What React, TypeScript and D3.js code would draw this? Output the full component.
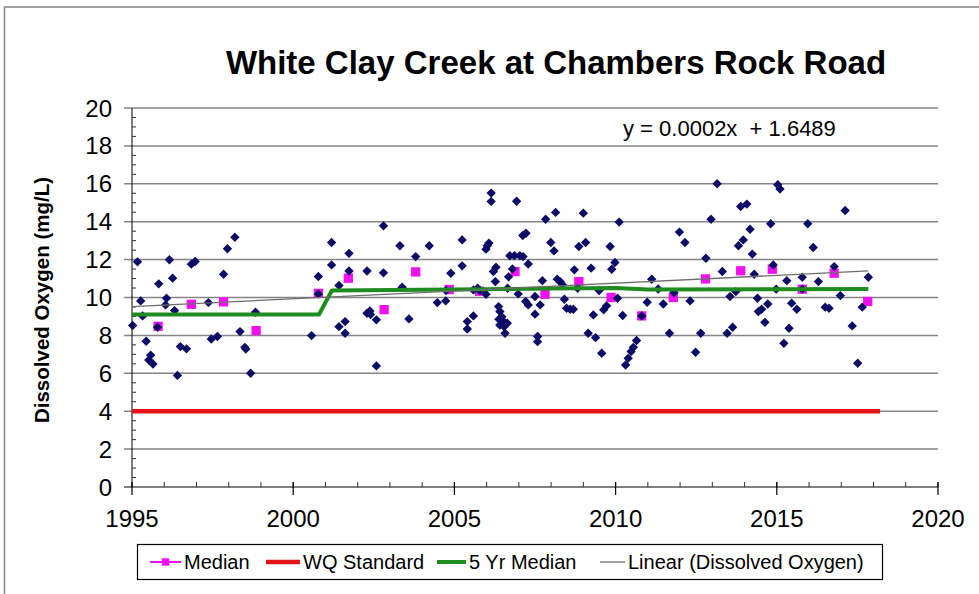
import React from 'react';
import * as d3 from 'd3';

const W = 979;
const H = 594;

const chartTitle = 'White Clay Creek at Chambers Rock Road';
const yAxisTitle = 'Dissolved Oxygen (mg/L)';
const equationText = 'y = 0.0002x  + 1.6489';
const xTicks = [1995, 2000, 2005, 2010, 2015, 2020];
const yTicks = [0, 2, 4, 6, 8, 10, 12, 14, 16, 18, 20];
const legendLabels = ['Median', 'WQ Standard', '5 Yr Median', 'Linear (Dissolved Oxygen)'];

const doYears = [
  1995.02, 1995.17, 1995.27, 1995.33, 1995.44, 1995.52, 1995.58, 1995.65, 1995.79, 1995.83,
  1996.04, 1996.07, 1996.16, 1996.26, 1996.32, 1996.41, 1996.5, 1996.69, 1996.84, 1996.96,
  1997.37, 1997.46, 1997.65, 1997.84, 1997.96, 1998.19, 1998.35, 1998.5, 1998.53, 1998.68,
  1998.83, 2000.57, 2000.78, 2000.78, 2001.19, 2001.19, 2001.42, 2001.42, 2001.61, 2001.61,
  2001.73, 2001.73, 2002.29, 2002.29, 2002.38, 2002.4, 2002.58, 2002.58, 2002.8, 2002.8,
  2003.31, 2003.38, 2003.59, 2003.8, 2004.22, 2004.47, 2004.73, 2004.74, 2004.89, 2005.24,
  2005.24, 2005.4, 2005.4, 2005.59, 2005.59, 2005.72, 2005.79, 2005.98, 2005.98, 2006.02,
  2006.07, 2006.14, 2006.14, 2006.21, 2006.27, 2006.29, 2006.37, 2006.38, 2006.41, 2006.41,
  2006.47, 2006.5, 2006.54, 2006.57, 2006.64, 2006.65, 2006.68, 2006.72, 2006.8, 2006.86,
  2006.93, 2006.98, 2007.03, 2007.12, 2007.13, 2007.21, 2007.22, 2007.29, 2007.29, 2007.5,
  2007.5, 2007.58, 2007.58, 2007.66, 2007.73, 2007.83, 2007.99, 2008.09, 2008.14, 2008.19,
  2008.28, 2008.35, 2008.41, 2008.48, 2008.59, 2008.69, 2008.72, 2008.82, 2008.86, 2009.0,
  2009.07, 2009.15, 2009.24, 2009.31, 2009.38, 2009.49, 2009.57, 2009.63, 2009.72, 2009.83,
  2009.88, 2009.98, 2010.06, 2010.11, 2010.22, 2010.31, 2010.39, 2010.48, 2010.55, 2010.65,
  2010.81, 2010.98, 2011.12, 2011.32, 2011.48, 2011.67, 2011.81, 2011.98, 2012.15, 2012.31,
  2012.48, 2012.64, 2012.8, 2012.96, 2013.15, 2013.31, 2013.46, 2013.55, 2013.63, 2013.73,
  2013.81, 2013.88, 2013.96, 2014.07, 2014.17, 2014.24, 2014.3, 2014.4, 2014.43, 2014.53,
  2014.63, 2014.72, 2014.81, 2014.89, 2014.98, 2015.03, 2015.1, 2015.22, 2015.31, 2015.38,
  2015.46, 2015.62, 2015.79, 2015.79, 2015.96, 2016.13, 2016.29, 2016.5, 2016.62, 2016.78,
  2016.97, 2017.12, 2017.34, 2017.51, 2017.65, 2017.84,
];

const doValues = [
  8.52, 11.88, 9.82, 9.03, 7.69, 6.7, 6.95, 6.49, 8.43, 10.72,
  9.61, 9.96, 11.99, 11.02, 9.31, 5.89, 7.41, 7.29, 11.76, 11.9,
  9.73, 7.81, 7.94, 11.23, 12.57, 13.18, 8.2, 7.37, 7.28, 6.0,
  9.22, 7.99, 11.11, 10.19, 12.9, 11.72, 10.63, 8.46, 8.73, 8.11,
  12.33, 11.4, 11.4, 9.17, 9.29, 9.1, 8.82, 6.39, 13.78, 11.3,
  12.73, 10.54, 8.87, 12.16, 12.73, 9.73, 9.82, 10.37, 11.28, 13.04,
  11.67, 8.73, 8.34, 9.03, 10.4, 10.49, 10.37, 10.17, 12.55, 12.73,
  12.87, 15.51, 15.07, 11.37, 10.84, 11.6, 9.52, 8.85, 9.26, 8.55,
  8.99, 8.78, 8.46, 8.11, 8.64, 10.49, 11.09, 12.2, 11.51, 12.2,
  15.08, 10.19, 12.2, 13.27, 12.16, 9.79, 13.39, 11.77, 9.61, 10.05,
  9.12, 7.94, 7.67, 9.61, 10.89, 14.13, 12.9, 12.46, 14.49, 10.96,
  10.84, 10.67, 9.91, 9.43, 9.38, 9.38, 11.46, 10.49, 12.69, 14.45,
  12.9, 8.11, 11.55, 9.08, 7.88, 10.37, 7.06, 9.35, 9.56, 12.69,
  11.49, 11.85, 9.96, 13.98, 9.05, 6.44, 6.79, 7.15, 7.37, 7.73,
  9.03, 9.75, 10.96, 10.45, 9.66, 8.11, 10.26, 13.45, 12.9, 9.82,
  7.11, 8.11, 12.07, 14.13, 16.0, 11.37, 8.11, 10.05, 8.43, 10.31,
  12.73, 14.8, 13.04, 14.93, 13.6, 12.29, 11.23, 9.96, 9.26, 9.38,
  8.69, 9.66, 13.89, 11.72, 10.44, 15.95, 15.72, 7.58, 10.89, 8.38,
  9.7, 9.38, 11.07, 10.44, 13.89, 12.64, 10.84, 9.49, 9.43, 11.63,
  10.1, 14.59, 8.5, 6.53, 9.49, 11.07,
];

const medianYears = [
  1995.81, 1996.84, 1997.84, 1998.85, 2000.78, 2001.71, 2002.82, 2003.8, 2004.84, 2005.78, 2006.88,
  2007.81, 2008.86, 2009.86, 2010.81, 2011.79, 2012.79, 2013.88, 2014.86, 2015.79, 2016.78, 2017.82,
];
const medianValues = [
  8.48, 9.64, 9.77, 8.25, 10.22, 11.02, 9.36, 11.35, 10.42, 10.33, 11.37,
  10.17, 10.84, 10.0, 9.03, 10.0, 10.98, 11.41, 11.49, 10.44, 11.28, 9.79,
];

const fiveYrYears = [1995.0, 2000.8, 2001.2, 2005.0, 2008.0, 2010.0, 2011.0, 2017.84];
const fiveYrValues = [9.1, 9.1, 10.37, 10.42, 10.48, 10.5, 10.42, 10.45];

const wqYears = [1995.0, 2018.2];
const wqValues = [4, 4];

const trendYears = [1995.0, 2017.84];
const trendValues = [9.52, 11.4];

const FONT = '"Liberation Sans", Arial, Helvetica, sans-serif';

export default function App() {
  const x = d3.scaleLinear().domain([1995, 2020]).range([132, 938]);
  const y = d3.scaleLinear().domain([0, 20]).range([487, 108]);

  const line = d3
    .line<[number, number]>()
    .x((d) => x(d[0]))
    .y((d) => y(d[1]));

  const zip = (a: number[], b: number[]) => a.map((v, i) => [v, b[i]] as [number, number]);

  const diamond = d3.symbol().type(d3.symbolSquare).size(44)();
  const square = d3.symbol().type(d3.symbolSquare).size(86)();

  const minorX = d3.range(1995, 2021, 1);
  const minorY = d3.range(0, 20.01, 0.5);

  const legendY = 562;

  return (
    <svg
      width={W}
      height={H}
      style={{ position: 'absolute', left: 0, top: 0, background: '#fff' }}
      fontFamily={FONT}
    >
      <rect x={0} y={0} width={W} height={H} fill="#fff" />
      <rect x={4.5} y={7} width={W + 20} height={H + 20} fill="none" stroke="#8a8a8a" strokeWidth={1.6} />

      <text x={556} y={74} textAnchor="middle" fontSize={33} fontWeight="bold" fill="#000">
        {chartTitle}
      </text>

      {/* gridlines */}
      {yTicks.filter((t) => t > 0).map((t) => (
        <line key={'g' + t} x1={124} x2={938} y1={y(t)} y2={y(t)} stroke="#858585" strokeWidth={1.5} />
      ))}

      {/* y axis */}
      <line x1={x(1995)} x2={x(1995)} y1={y(20)} y2={y(0)} stroke="#000" strokeWidth={1} />
      {minorY.filter((t) => t % 2 !== 0).map((t) => (
        <line key={'my' + t} x1={x(1995)} x2={x(1995) + 4} y1={y(t)} y2={y(t)} stroke="#333" strokeWidth={1} />
      ))}
      {yTicks.map((t) => (
        <text key={'yl' + t} x={112} y={y(t) + 8.5} textAnchor="end" fontSize={24} fill="#000">
          {t}
        </text>
      ))}

      {/* x axis */}
      <line x1={124} x2={938} y1={y(0)} y2={y(0)} stroke="#000" strokeWidth={1.2} />
      {minorX.map((t) => (
        <line key={'mx' + t} x1={x(t)} x2={x(t)} y1={y(0) - 5} y2={y(0)} stroke="#333" strokeWidth={1} />
      ))}
      {xTicks.map((t) => (
        <g key={'xl' + t}>
          <line x1={x(t)} x2={x(t)} y1={y(0) - 5} y2={y(0) + 8} stroke="#000" strokeWidth={1.2} />
          <text x={x(t)} y={527} textAnchor="middle" fontSize={24} fill="#000">
            {t}
          </text>
        </g>
      ))}

      <text
        transform={`translate(49, 300) rotate(-90)`}
        textAnchor="middle"
        fontSize={20.5}
        fontWeight="bold"
        fill="#000"
      >
        {yAxisTitle}
      </text>

      <text x={623} y={136} fontSize={22} fill="#000" style={{ whiteSpace: 'pre' }}>
        {equationText}
      </text>

      {/* medians */}
      {medianYears.map((yr, i) => (
        <path key={'md' + i} d={square} transform={`translate(${x(yr)},${y(medianValues[i])})`} fill="#f010f0" />
      ))}

      {/* dissolved oxygen points */}
      {doYears.map((yr, i) => (
        <path
          key={'do' + i}
          d={diamond}
          transform={`translate(${x(yr)},${y(doValues[i])}) rotate(45)`}
          fill="#0c0c66"
        />
      ))}

      <path d={line(zip(fiveYrYears, fiveYrValues)) || ''} fill="none" stroke="#1e8c1e" strokeWidth={4} strokeLinejoin="round" />
      <path d={line(zip(wqYears, wqValues)) || ''} fill="none" stroke="#e4141a" strokeWidth={4.5} />
      <path d={line(zip(trendYears, trendValues)) || ''} fill="none" stroke="#6e6e6e" strokeWidth={1.3} />

      {/* legend */}
      <rect x={137.5} y={544.5} width={745} height={35} fill="#fff" stroke="#000" strokeWidth={1.2} />
      <line x1={150} x2={181} y1={legendY} y2={legendY} stroke="#f010f0" strokeWidth={2} />
      <path d={square} transform={`translate(165.5,${legendY}) scale(0.8)`} fill="#f010f0" />
      <text x={184} y={legendY + 7} fontSize={20} fill="#000">{legendLabels[0]}</text>
      <line x1={266} x2={300} y1={legendY} y2={legendY} stroke="#e4141a" strokeWidth={4.5} />
      <text x={303} y={legendY + 7} fontSize={20} fill="#000">{legendLabels[1]}</text>
      <line x1={437} x2={466} y1={legendY} y2={legendY} stroke="#1e8c1e" strokeWidth={4} />
      <text x={469} y={legendY + 7} fontSize={20} fill="#000">{legendLabels[2]}</text>
      <line x1={600} x2={625} y1={legendY} y2={legendY} stroke="#6e6e6e" strokeWidth={1.3} />
      <text x={628} y={legendY + 7} fontSize={20} fill="#000">{legendLabels[3]}</text>
    </svg>
  );
}
